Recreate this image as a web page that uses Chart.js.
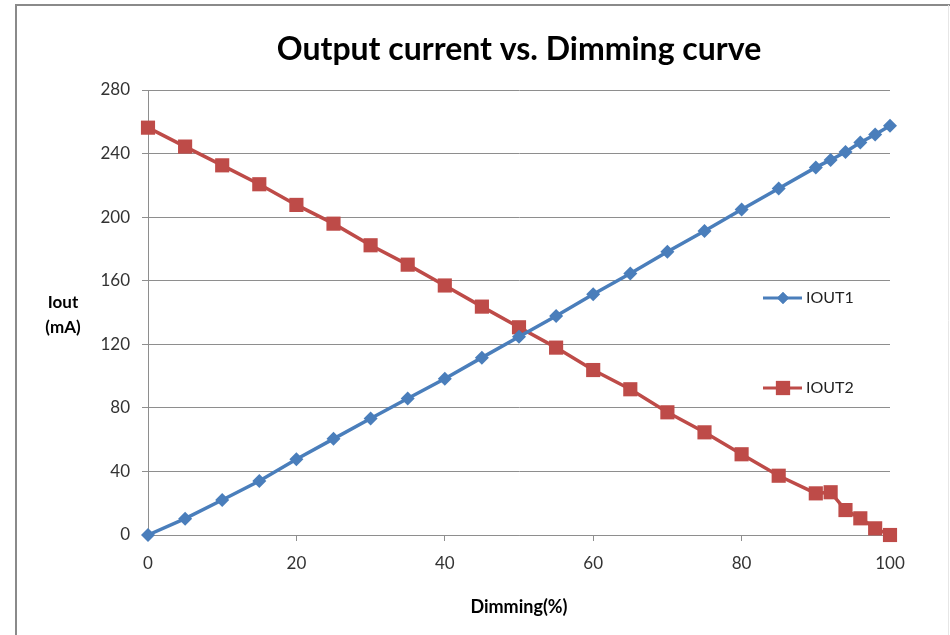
<!DOCTYPE html>
<html>
<head>
<meta charset="utf-8">
<script src="https://cdn.jsdelivr.net/npm/chart.js@4/dist/chart.umd.min.js"></script>
<style>
  html, body { margin: 0; padding: 0; background: #fff; }
  #wrap { width: 950px; height: 635px; position: relative; }
</style>
</head>
<body>
<div id="wrap"><canvas id="c" width="950" height="635"></canvas></div>
<script>
const chartTitle = 'Output current vs. Dimming curve';
const xTitle = 'Dimming(%)';
const yTitleLines = ['Iout', '(mA)'];
const dimming = [0, 5, 10, 15, 20, 25, 30, 35, 40, 45, 50, 55, 60, 65, 70, 75, 80, 85, 90, 92, 94, 96, 98, 100];
const iout1 = [0, 10.3, 22, 34, 47.7, 60.5, 73.3, 85.9, 98.3, 111.6, 124.8, 137.8, 151.5, 164.5, 178.2, 191.3, 204.8, 218, 231.3, 236, 241, 247, 252, 257.5];
const iout2 = [256.3, 244.4, 232.6, 220.7, 207.7, 195.9, 182.3, 170.1, 157, 143.7, 130.7, 117.9, 103.8, 91.7, 77.2, 64.6, 50.8, 37.3, 26.2, 26.9, 15.7, 10.5, 4.2, 0];
const seriesNames = ['IOUT1', 'IOUT2'];
const xTicks = [0, 20, 40, 60, 80, 100];
const yTicks = [0, 40, 80, 120, 160, 200, 240, 280];

const BLUE = '#4A7EBB';
const RED = '#BE4B48';
const GRID = '#8E8E8E';

Chart.defaults.font.family = 'Lato, "Open Sans", sans-serif';

const toPts = (xs, ys) => xs.map((x, i) => ({ x: x, y: ys[i] }));

const framePlugin = {
  id: 'frame',
  beforeDraw(chart) {
    const ctx = chart.ctx;
    ctx.save();
    ctx.fillStyle = '#fff';
    ctx.fillRect(0, 0, chart.width, chart.height);
    ctx.strokeStyle = '#8A8A8A';
    ctx.lineWidth = 2;
    ctx.beginPath();
    ctx.moveTo(16, 640);
    ctx.lineTo(16, 5);
    ctx.lineTo(960, 5);
    ctx.stroke();
    ctx.strokeStyle = '#E6E6E6';
    ctx.lineWidth = 1;
    ctx.beginPath();
    ctx.moveTo(948.5, 5);
    ctx.lineTo(948.5, 640);
    ctx.stroke();
    ctx.restore();
  },
  afterDraw(chart) {
    const ctx = chart.ctx;
    const ca = chart.chartArea;
    ctx.save();
    // Title
    ctx.fillStyle = '#000';
    ctx.font = 'bold 32px Lato, "Open Sans", sans-serif';
    ctx.textAlign = 'center';
    ctx.textBaseline = 'middle';
    ctx.fillText(chartTitle, (ca.left + ca.right) / 2, 50);
    // Y title (horizontal)
    ctx.font = 'bold 17px Lato, "Open Sans", sans-serif';
    ctx.fillText(yTitleLines[0], 63, 303);
    ctx.fillText(yTitleLines[1], 63, 328);
    // Legend inside plot
    const items = [
      { name: seriesNames[0], color: BLUE, style: 'rectRot', r: 6, y: 298 },
      { name: seriesNames[1], color: RED, style: 'rect', r: 10, y: 388 }
    ];
    items.forEach(it => {
      ctx.strokeStyle = it.color;
      ctx.lineWidth = 3;
      ctx.beginPath();
      ctx.moveTo(763, it.y);
      ctx.lineTo(802, it.y);
      ctx.stroke();
      ctx.fillStyle = it.color;
      Chart.helpers.drawPoint(ctx, { pointStyle: it.style, radius: it.r, borderWidth: 0, rotation: 0 }, 783, it.y);
      ctx.fill();
      ctx.fillStyle = '#222';
      ctx.font = '16px Lato, "Open Sans", sans-serif';
      ctx.textAlign = 'left';
      ctx.textBaseline = 'middle';
      ctx.fillText(it.name, 806, it.y);
    });
    ctx.restore();
  }
};

new Chart(document.getElementById('c'), {
  type: 'scatter',
  data: {
    datasets: [
      {
        label: seriesNames[0],
        data: toPts(dimming, iout1),
        showLine: true,
        borderColor: BLUE,
        backgroundColor: BLUE,
        borderWidth: 3.5,
        pointStyle: 'rectRot',
        pointRadius: 7,
        pointHoverRadius: 7,
        pointBorderWidth: 0,
        clip: false
      },
      {
        label: seriesNames[1],
        data: toPts(dimming, iout2),
        showLine: true,
        borderColor: RED,
        backgroundColor: RED,
        borderWidth: 3.5,
        pointStyle: 'rect',
        pointRadius: 10,
        pointHoverRadius: 10,
        pointBorderWidth: 0,
        clip: false
      }
    ]
  },
  options: {
    responsive: false,
    animation: false,
    events: [],
    layout: { padding: { left: 0, right: 60, top: 90, bottom: 0 } },
    plugins: {
      legend: { display: false },
      title: { display: false },
      tooltip: { enabled: false }
    },
    scales: {
      x: {
        type: 'linear',
        min: 0,
        max: 100,
        afterBuildTicks: (s) => { s.ticks = xTicks.map(v => ({ value: v })); },
        afterFit: (s) => { s.height = 100; },
        grid: { drawOnChartArea: false, drawTicks: true, tickLength: 6, color: GRID },
        border: { color: GRID, width: 1 },
        ticks: { color: '#333', font: { size: 17 }, padding: 12, maxRotation: 0 },
        title: { display: true, text: xTitle, color: '#000', font: { size: 18, weight: 'bold' }, padding: { top: 0, bottom: 17 } }
      },
      y: {
        type: 'linear',
        min: 0,
        max: 280,
        afterBuildTicks: (s) => { s.ticks = yTicks.map(v => ({ value: v })); },
        afterFit: (s) => { s.width = 148; },
        grid: { drawOnChartArea: true, drawTicks: true, tickLength: 6, color: GRID },
        border: { color: GRID, width: 1 },
        ticks: { color: '#333', font: { size: 17 }, padding: 12 }
      }
    }
  },
  plugins: [framePlugin]
});
</script>
</body>
</html>
